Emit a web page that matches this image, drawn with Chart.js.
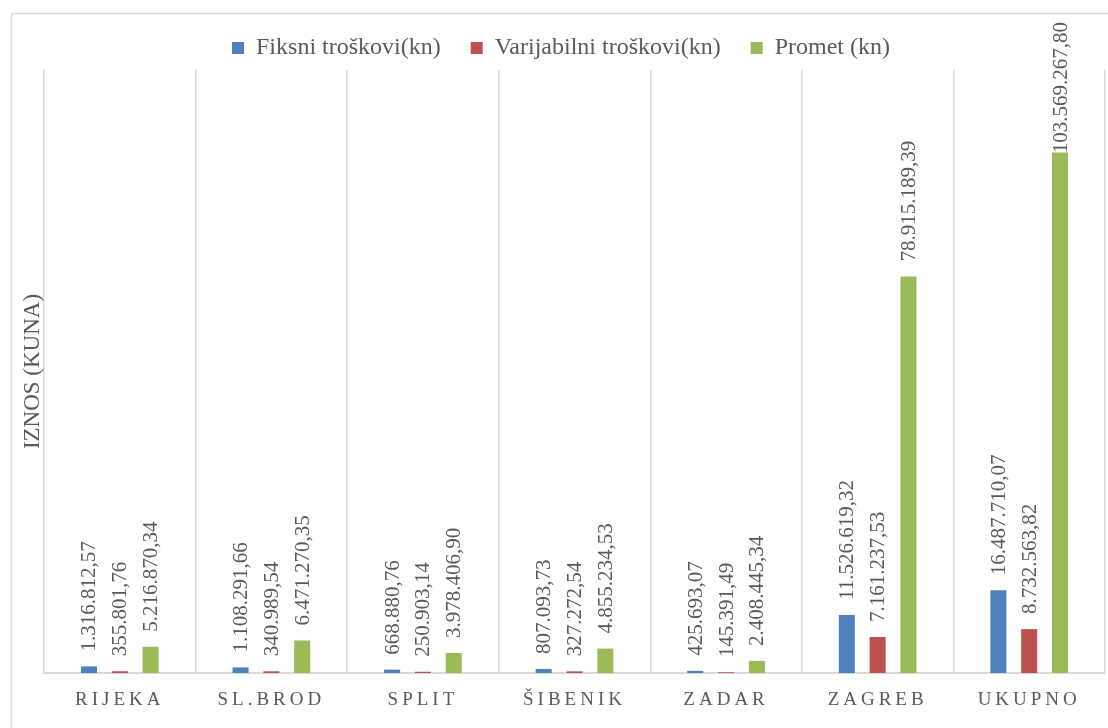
<!DOCTYPE html>
<html>
<head>
<meta charset="utf-8">
<script src="https://cdn.jsdelivr.net/npm/chart.js@4/dist/chart.umd.min.js"></script>
<style>
  body { margin: 0; background: #fff; }
  canvas { display: block; }
</style>
</head>
<body>
<canvas id="troskoviChart" width="1108" height="728"></canvas>
<script>
var gradovi = ['RIJEKA', 'SL.BROD', 'SPLIT', 'ŠIBENIK', 'ZADAR', 'ZAGREB', 'UKUPNO'];
var fiksniTroskovi = [1316812.57, 1108291.66, 668880.76, 807093.73, 425693.07, 11526619.32, 16487710.07];
var varijabilniTroskovi = [355801.76, 340989.54, 250903.14, 327272.54, 145391.49, 7161237.53, 8732563.82];
var promet = [5216870.34, 6471270.35, 3978406.90, 4855234.53, 2408445.34, 78915189.39, 103569267.80];
var nazivi = ['Fiksni troškovi(kn)', 'Varijabilni troškovi(kn)', 'Promet (kn)'];
var boje = ['#4F81BD', '#C0504D', '#9BBB59'];

var SERIF = '"Liberation Serif", "Times New Roman", serif';
var TEXT_COLOR = '#595959';
var LINE_COLOR = '#d9d9d9';

// 1316812.57 -> "1.316.812,57"
function formatKune(v){
	var parts = v.toFixed(2).split('.');
	var cijeli = parts[0].replace(/\B(?=(\d{3})+(?!\d))/g, '.');
	return cijeli + ',' + parts[1];
}

var okvirPlugin = {
	id: 'okvir',
	beforeDraw: function(chart){
		var ctx = chart.ctx;
		ctx.save();
		ctx.strokeStyle = LINE_COLOR;
		ctx.lineWidth = 1.5;
		ctx.strokeRect(11.5, 13.5, 1200, 800);
		ctx.restore();
	}
};

var oznakePlugin = {
	id: 'oznake',
	afterDatasetsDraw: function(chart){
		var ctx = chart.ctx;
		ctx.save();
		ctx.font = '21px ' + SERIF;
		ctx.fillStyle = TEXT_COLOR;
		ctx.textAlign = 'left';
		ctx.textBaseline = 'middle';
		chart.data.datasets.forEach(function(ds, i){
			var meta = chart.getDatasetMeta(i);
			meta.data.forEach(function(bar, j){
				var txt = formatKune(ds.data[j]);
				var w = ctx.measureText(txt).width;
				var start = bar.y - 15;
				if(start - w < 22){
					start = 22 + w;
				}
				ctx.save();
				ctx.translate(bar.x + 1, start);
				ctx.rotate(-Math.PI / 2);
				ctx.fillText(txt, 0, 0);
				ctx.restore();
			});
		});
		ctx.restore();
	},
	afterDraw: function(chart){
		var ctx = chart.ctx;
		var xScale = chart.scales.x;
		ctx.save();
		ctx.font = '19px ' + SERIF;
		ctx.fillStyle = TEXT_COLOR;
		ctx.textAlign = 'center';
		ctx.textBaseline = 'middle';
		ctx.letterSpacing = '4px';
		gradovi.forEach(function(g, i){
			ctx.fillText(g, xScale.getPixelForValue(i), 700);
		});
		ctx.restore();
	}
};

var datasets = [fiksniTroskovi, varijabilniTroskovi, promet].map(function(d, i){
	return {
		label: nazivi[i],
		data: d,
		backgroundColor: boje[i],
		categoryPercentage: 0.61,
		barPercentage: 0.52
	};
});

new Chart(document.getElementById('troskoviChart'), {
	type: 'bar',
	data: { labels: gradovi, datasets: datasets },
	options: {
		responsive: false,
		animation: false,
		devicePixelRatio: 1,
		layout: { padding: { top: 6, left: 17, right: 3, bottom: 55 } },
		plugins: {
			legend: {
				position: 'top',
				labels: {
					boxWidth: 12,
					boxHeight: 12,
					padding: 30,
					color: TEXT_COLOR,
					font: { family: SERIF, size: 24 }
				}
			},
			tooltip: { enabled: false }
		},
		scales: {
			x: {
				grid: { color: LINE_COLOR, lineWidth: 1.5, offset: true, drawTicks: false },
				border: { color: LINE_COLOR, width: 2 },
				ticks: { display: false }
			},
			y: {
				min: 0,
				max: 120000000,
				grid: { display: false, drawTicks: false },
				border: { display: false },
				ticks: { display: false },
				title: {
					display: true,
					text: 'IZNOS (KUNA)',
					color: TEXT_COLOR,
					font: { family: SERIF, size: 23, lineHeight: 1 },
					padding: { top: 4, bottom: 0 }
				}
			}
		}
	},
	plugins: [okvirPlugin, oznakePlugin]
});
</script>
</body>
</html>
